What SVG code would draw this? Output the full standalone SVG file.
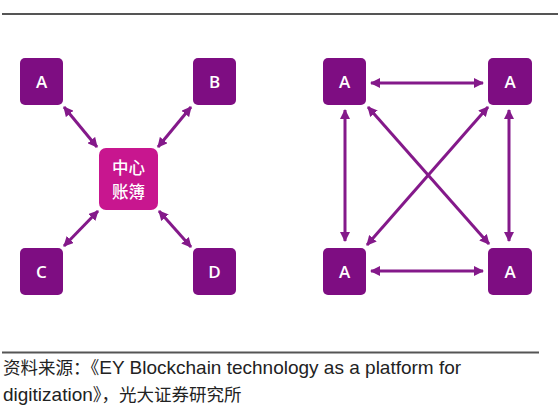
<svg xmlns="http://www.w3.org/2000/svg" width="558" height="416" viewBox="0 0 558 416">
<style>
.node{fill:#7E0D82}
.hub{fill:#C8168F}
.lbl{fill:#ffffff;font-family:"Open Sans","Liberation Sans",sans-serif;font-size:17px;font-weight:600;text-anchor:middle}
.hlbl{fill:#ffffff;font-family:"Noto Sans CJK SC",sans-serif;font-size:16.5px;font-weight:500;text-anchor:middle}
.conn line{stroke:#84198A;stroke-width:3;marker-start:url(#ah);marker-end:url(#ah)}
.rule{stroke:#555;stroke-width:2}
.src{font-family:"Noto Sans CJK SC",sans-serif;font-size:17.5px;fill:#222}
.lat{font-family:"Liberation Sans","Noto Sans CJK SC",sans-serif;font-size:19px}
</style>
<defs>
<marker id="ah" viewBox="0 0 10 10" refX="9" refY="5" markerWidth="10" markerHeight="10" markerUnits="userSpaceOnUse" orient="auto-start-reverse">
<path d="M0,0 L10,5 L0,10 z" fill="#84198A"/>
</marker>
</defs>
<rect width="558" height="416" fill="#ffffff"/>
<line class="rule" x1="2" y1="14" x2="558" y2="14"/>
<g class="conn" id="connectors">
<line x1="64" y1="107" x2="97" y2="147"/>
<line x1="191" y1="107" x2="158" y2="147"/>
<line x1="98" y1="211" x2="64" y2="246"/>
<line x1="159" y1="211" x2="191" y2="247"/>
<line x1="371" y1="83" x2="483" y2="83"/>
<line x1="371" y1="271" x2="483" y2="271"/>
<line x1="345" y1="110" x2="345" y2="241"/>
<line x1="509" y1="110" x2="509" y2="241"/>
<line x1="368" y1="107" x2="489" y2="244"/>
<line x1="488" y1="107" x2="367" y2="245"/>
</g>
<g id="nA"><rect class="node" x="20" y="58" width="43" height="47" rx="5"/><text class="lbl" x="41.5" y="88">A</text></g>
<g id="nB"><rect class="node" x="193" y="58" width="43" height="47" rx="5"/><text class="lbl" x="214.5" y="88">B</text></g>
<g id="nC"><rect class="node" x="20" y="248" width="43" height="47" rx="5"/><text class="lbl" x="41.5" y="278">C</text></g>
<g id="nD"><rect class="node" x="193" y="248" width="43" height="47" rx="5"/><text class="lbl" x="214.5" y="278">D</text></g>
<g id="hub"><rect class="hub" x="99" y="148" width="59" height="62" rx="7"/><text class="hlbl" x="128.5" y="174">中心</text><text class="hlbl" x="128.5" y="198">账簿</text></g>
<g id="p1"><rect class="node" x="323" y="58" width="43" height="47" rx="5"/><text class="lbl" x="344.5" y="88">A</text></g>
<g id="p2"><rect class="node" x="488" y="58" width="44" height="47" rx="5"/><text class="lbl" x="510" y="88">A</text></g>
<g id="p3"><rect class="node" x="323" y="248" width="43" height="47" rx="5"/><text class="lbl" x="344.5" y="278">A</text></g>
<g id="p4"><rect class="node" x="488" y="248" width="44" height="47" rx="5"/><text class="lbl" x="510" y="278">A</text></g>
<line class="rule" x1="2" y1="352.5" x2="539" y2="352.5"/>
<text class="src" x="3" y="374">资料来源：《<tspan class="lat">EY Blockchain technology as a platform for</tspan></text>
<text class="src" x="3" y="401"><tspan class="lat">digitization</tspan>》，光大证券研究所</text>
</svg>
